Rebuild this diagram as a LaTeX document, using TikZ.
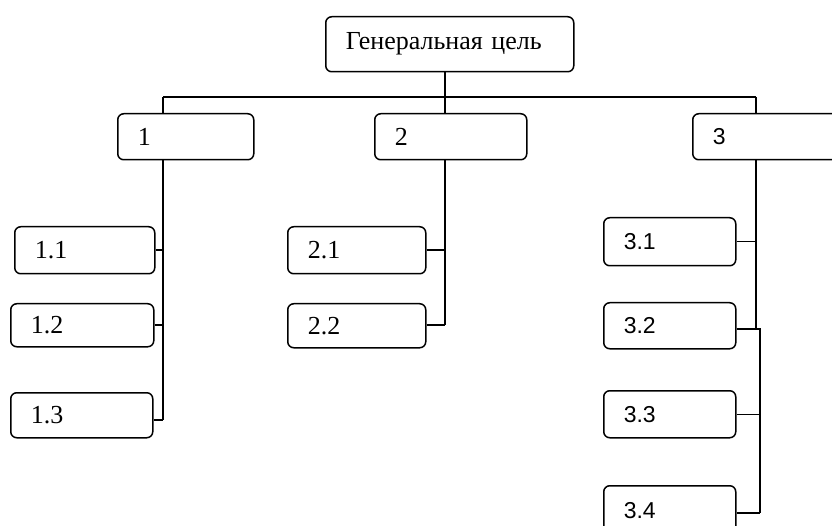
\documentclass[tikz,border=0pt]{standalone}
\usepackage{fontspec}
\setmainfont{Liberation Serif}
\newfontfamily\sansf{Liberation Sans}
\begin{document}
\begin{tikzpicture}[x=1pt,y=-1pt,
  box/.style={draw, line width=1.5pt, rounded corners=6pt, anchor=north west,
    inner xsep=20pt, inner ysep=0pt, align=left, font=\fontsize{26}{28}\selectfont},
  sbox/.style={box, font=\sansf\fontsize{23}{26}\selectfont},
  conn/.style={line width=1.5pt}]
\useasboundingbox (0,0) rectangle (832,526);
\clip (0,0) rectangle (832,526);
% boxes
\node[box, text width=208pt, minimum height=55pt] (G) at (325,16) {Генеральная цель};
\node[box, text width=96pt, minimum height=46pt] (b1) at (117,113) {1};
\node[box, text width=112pt, minimum height=46pt] (b2) at (374,113) {2};
\node[sbox, text width=140pt, minimum height=46pt] (b3) at (692,113) {3};
\node[box, text width=100pt, minimum height=47pt] (b11) at (14,226) {1.1};
\node[box, text width=103pt, minimum height=43pt] (b12) at (10,303) {1.2};
\node[box, text width=102pt, minimum height=45pt] (b13) at (10,392) {1.3};
\node[box, text width=98pt, minimum height=47pt] (b21) at (287,226) {2.1};
\node[box, text width=98pt, minimum height=44pt] (b22) at (287,303) {2.2};
\node[sbox, text width=92pt, minimum height=48pt] (b31) at (603,217) {3.1};
\node[sbox, text width=92pt, minimum height=46pt] (b32) at (603,302) {3.2};
\node[sbox, text width=92pt, minimum height=47pt] (b33) at (603,390) {3.3};
\node[sbox, text width=92pt, minimum height=50pt] (b34) at (603,485) {3.4};
% junction coordinates
\coordinate (gj) at (445,97);
\coordinate (j1) at (163,97);
\coordinate (j3) at (756,97);
\coordinate (c1) at (163,420);
\coordinate (c2) at (445,325);
\coordinate (c3a) at (756,329);
\coordinate (c3b) at (760,329);
\coordinate (c3c) at (760,513);
% top level
\draw[conn] (G.south -| gj) -- (gj);
\draw[conn] (j1) -- (j3);
\draw[conn] (j1) -- (j1 |- b1.north);
\draw[conn] (gj) -- (gj |- b2.north);
\draw[conn] (j3) -- (j3 |- b3.north);
% branch 1
\draw[conn] (c1 |- b1.south) -- (c1);
\draw[conn] (b11.east) -- (b11.east -| c1);
\draw[conn] (b12.east) -- (b12.east -| c1);
\draw[conn] (b13.east |- c1) -- (c1);
% branch 2
\draw[conn] (c2 |- b2.south) -- (c2);
\draw[conn] (b21.east) -- (b21.east -| c2);
\draw[conn] (b22.east |- c2) -- (c2);
% branch 3
\draw[conn] (c3a |- b3.south) -- (c3a) -- (c3b) -- (c3c);
\draw[conn] (b31.east) -- (b31.east -| c3a);
\draw[conn] (b32.east |- c3a) -- (c3b);
\draw[conn] (b33.east) -- (b33.east -| c3b);
\draw[conn] (b34.east |- c3c) -- (c3c);
\end{tikzpicture}
\end{document}
